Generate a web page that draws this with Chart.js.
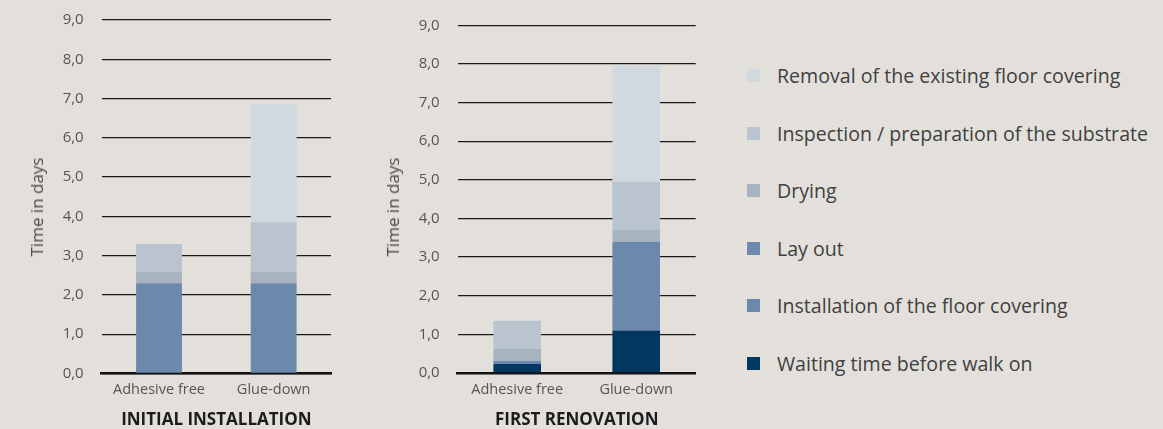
<!DOCTYPE html>
<html>
<head>
<meta charset="utf-8">
<script src="https://cdn.jsdelivr.net/npm/chart.js@4.4.1/dist/chart.umd.min.js"></script>
<style>
html,body{margin:0;padding:0;background:#e3e0dc;width:1163px;height:429px;overflow:hidden;font-family:'Open Sans',sans-serif;}
.box{position:absolute;top:0;height:429px;}
.box canvas{display:block;}
#box1{left:0;width:345px;}
#box2{left:350px;width:360px;}
.ytitle{position:absolute;font-size:17px;color:#4a4a4a;white-space:nowrap;transform:translate(-50%,-50%) rotate(-90deg);line-height:20px;}
#legend{position:absolute;left:747px;top:0;width:416px;height:429px;}
.item{position:absolute;left:0;height:26px;display:flex;align-items:center;white-space:nowrap;font-size:19.6px;color:#404040;}
.sw{width:13px;height:13px;margin-right:17px;flex:none;}
</style>
</head>
<body>
<div class="box" id="box1"><canvas id="c1" width="345" height="429"></canvas></div>
<div class="box" id="box2"><canvas id="c2" width="360" height="429"></canvas></div>
<div class="ytitle" style="left:37px;top:207px;">Time in days</div>
<div class="ytitle" style="left:393px;top:207px;">Time in days</div>
<div id="legend"></div>
<script>
// ---- data ----
const categories = ['Adhesive free', 'Glue-down'];
const seriesNames = [
  'Waiting time before walk on',
  'Installation of the floor covering',
  'Lay out',
  'Drying',
  'Inspection / preparation of the substrate',
  'Removal of the existing floor covering'
];
const yTickLabels = ['0,0','1,0','2,0','3,0','4,0','5,0','6,0','7,0','8,0','9,0'];
const chartTitles = ['INITIAL INSTALLATION', 'FIRST RENOVATION'];

// Initial installation (days)
const initialWaiting      = [0, 0];
const initialInstallation = [2.3, 2.3];
const initialLayOut       = [0, 0];
const initialDrying       = [0.3, 0.3];
const initialInspection   = [0.7, 1.25];
const initialRemoval      = [0, 3.0];

// First renovation (days)
const renovationWaiting      = [0.23, 1.1];
const renovationInstallation = [0, 2.3];
const renovationLayOut       = [0.08, 0];
const renovationDrying       = [0.31, 0.3];
const renovationInspection   = [0.73, 1.25];
const renovationRemoval      = [0, 3.0];

// ---- styles ----
const seriesColors = ['#02375f', '#6b88ad', '#6d8aae', '#a7b3be', '#b9c4ce', '#d0d8e0'];
const FONT = "'Open Sans', sans-serif";

function makeChart(id, stacks, cfg) {
  return new Chart(document.getElementById(id), {
    type: 'bar',
    data: {
      labels: categories,
      datasets: seriesNames.map((name, i) => ({
        label: name,
        data: stacks[i],
        backgroundColor: seriesColors[i],
        borderWidth: 0,
        barPercentage: 0.4,
        categoryPercentage: 1
      }))
    },
    options: {
      responsive: false,
      animation: false,
      layout: { padding: { top: cfg.top, right: cfg.right, left: 0, bottom: 0 } },
      plugins: { legend: { display: false }, tooltip: { enabled: false } },
      scales: {
        x: {
          stacked: true,
          z: 1,
          grid: { display: false, drawTicks: false },
          border: { display: true, color: '#111111', width: 2.5 },
          ticks: { color: '#555555', font: { family: FONT, size: 14.5 }, padding: 8, maxRotation: 0 },
          title: { display: true, text: cfg.title, color: '#1c1c1c', font: { family: FONT, size: 17, weight: 'bold', lineHeight: 1 }, padding: { top: 0, bottom: 0 } },
          afterFit(s) { s.height = cfg.xh; s.paddingLeft = 0; s.paddingRight = 0; }
        },
        y: {
          stacked: true,
          min: 0,
          max: 9,
          ticks: { stepSize: 1, color: '#555555', font: { family: FONT, size: 15 }, padding: 18,
                   callback: (v, i) => yTickLabels[i] },
          grid: { color: '#1a1a1a', lineWidth: 1.3, drawTicks: false },
          border: { display: false },
          afterFit(s) { s.width = cfg.yw; s.paddingTop = 0; s.paddingBottom = 0; }
        }
      }
    }
  });
}

makeChart('c1',
  [initialWaiting, initialInstallation, initialLayOut, initialDrying, initialInspection, initialRemoval],
  { top: 20, right: 14, yw: 101.7, xh: 55.5, title: chartTitles[0] });

makeChart('c2',
  [renovationWaiting, renovationInstallation, renovationLayOut, renovationDrying, renovationInspection, renovationRemoval],
  { top: 25.3, right: 14.3, yw: 107.7, xh: 56, title: chartTitles[1] });

// legend (reverse order of stack)
const legend = document.getElementById('legend');
const order = seriesNames.map((n, i) => i).reverse();
order.forEach((idx, row) => {
  const item = document.createElement('div');
  item.className = 'item';
  item.style.top = (75.7 + row * 57.5 - 13) + 'px';
  const sw = document.createElement('span');
  sw.className = 'sw';
  sw.style.background = seriesColors[idx];
  const tx = document.createElement('span');
  tx.textContent = seriesNames[idx];
  item.appendChild(sw);
  item.appendChild(tx);
  legend.appendChild(item);
});
</script>
</body>
</html>
